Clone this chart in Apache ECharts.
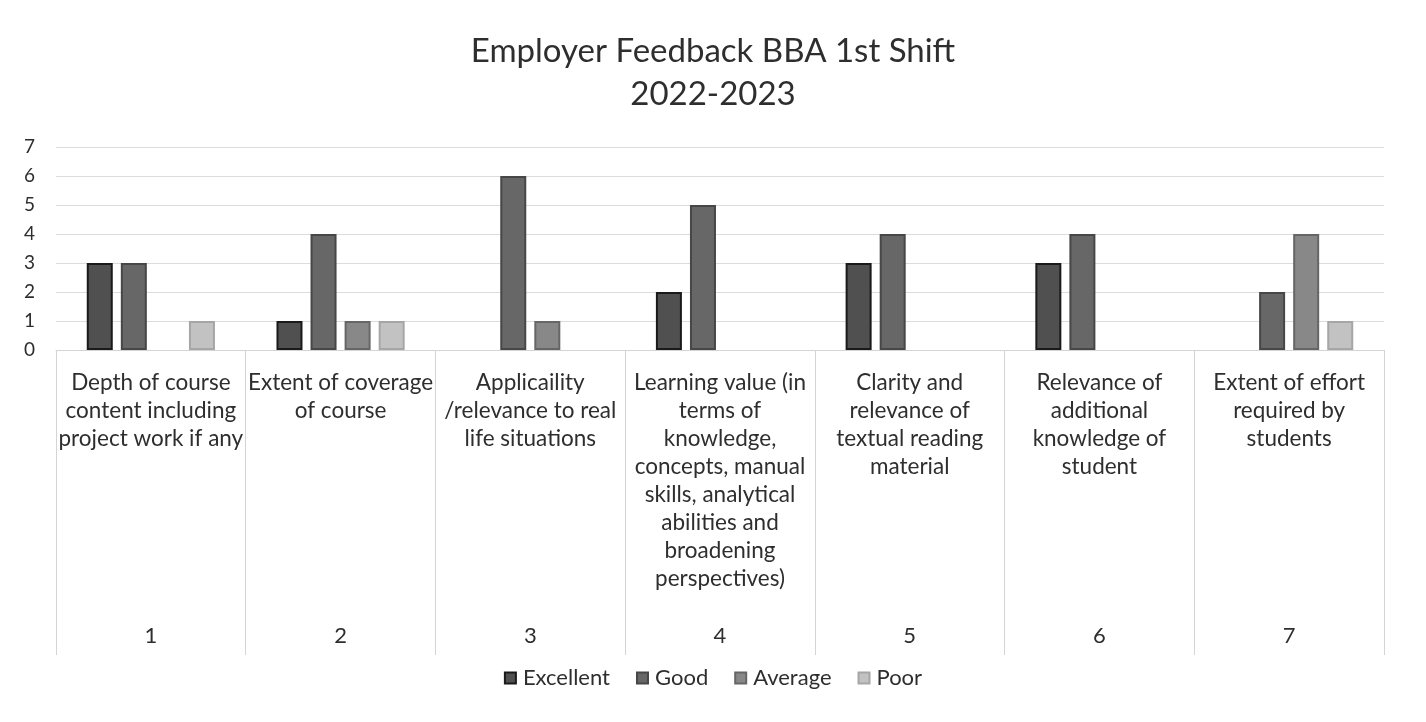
<!DOCTYPE html>
<html>
<head>
<meta charset="utf-8">
<script src="https://cdn.jsdelivr.net/npm/echarts@6/dist/echarts.min.js"></script>
<style>
html,body{margin:0;padding:0;background:#ffffff;}
#chart{width:1426px;height:722px;}
</style>
</head>
<body>
<div id="chart"></div>
<script>
var titleLines = ['Employer Feedback BBA 1st Shift', '2022-2023'];
var categories = [
  'Depth of course\ncontent including\nproject work if any',
  'Extent of coverage\nof course',
  'Applicaility\n/relevance to real\nlife situations',
  'Learning value (in\nterms of\nknowledge,\nconcepts, manual\nskills, analytical\nabilities and\nbroadening\nperspectives)',
  'Clarity and\nrelevance of\ntextual reading\nmaterial',
  'Relevance of\nadditional\nknowledge of\nstudent',
  'Extent of effort\nrequired by\nstudents'
];
var categoryNumbers = ['1', '2', '3', '4', '5', '6', '7'];
var excellent = [3, 1, 0, 2, 3, 3, 0];
var good      = [3, 4, 6, 5, 4, 4, 2];
var average   = [0, 1, 1, 0, 0, 0, 4];
var poor      = [1, 1, 0, 0, 0, 0, 1];
var yTicks = [0, 1, 2, 3, 4, 5, 6, 7];

var FONT = 'Lato, "Open Sans", sans-serif';
var chart = echarts.init(document.getElementById('chart'));

function barSeries(name, data, color, border) {
  return {
    name: name,
    type: 'bar',
    xAxisIndex: 0,
    barWidth: 26,
    barGap: '31%',
    data: data.map(function (v) {
      return v === 0 ? { value: v, itemStyle: { borderWidth: 0, opacity: 0 } } : v;
    }),
    itemStyle: { color: color, borderColor: border, borderWidth: 2 }
  };
}

chart.setOption({
  backgroundColor: '#ffffff',
  textStyle: { fontFamily: FONT },
  title: {
    text: titleLines.join('\n'),
    left: 'center',
    top: 30,
    padding: 0,
    textStyle: { fontFamily: FONT, fontSize: 33, fontWeight: 'normal', color: '#2e2e2e', lineHeight: 43 }
  },
  legend: {
    left: 'center',
    top: 662,
    itemWidth: 11,
    itemHeight: 11,
    itemGap: 26,
    icon: 'rect',
    textStyle: { fontFamily: FONT, fontSize: 22, color: '#2e2e2e', padding: [0, 0, 0, 2] },
    data: ['Excellent', 'Good', 'Average', 'Poor']
  },
  grid: { left: 56, right: 42, top: 147, bottom: 372, containLabel: false },
  xAxis: [
    {
      type: 'category',
      data: categories,
      axisLine: { show: true, lineStyle: { color: '#d4d4d4', width: 1 } },
      axisTick: { show: true, length: 305, interval: 0, lineStyle: { color: '#d4d4d4', width: 1 } },
      axisLabel: {
        interval: 0,
        margin: 19,
        fontFamily: FONT,
        fontSize: 22.5,
        lineHeight: 28,
        color: '#2e2e2e',
        align: 'center',
        verticalAlign: 'top'
      }
    },
    {
      type: 'category',
      data: categoryNumbers,
      position: 'bottom',
      axisLine: { show: false },
      axisTick: { show: false },
      axisLabel: {
        interval: 0,
        margin: 275,
        fontFamily: FONT,
        fontSize: 22,
        color: '#2e2e2e',
        verticalAlign: 'top'
      }
    }
  ],
  yAxis: {
    type: 'value',
    min: yTicks[0],
    max: yTicks[yTicks.length - 1],
    interval: 1,
    axisLine: { show: false },
    axisTick: { show: false },
    splitLine: { show: true, lineStyle: { color: '#dcdcdc', width: 1 } },
    axisLabel: { margin: 21, fontFamily: FONT, fontSize: 19, color: '#2e2e2e' }
  },
  series: [
    barSeries('Excellent', excellent, '#505050', '#1a1a1a'),
    barSeries('Good', good, '#676767', '#474747'),
    barSeries('Average', average, '#888888', '#666666'),
    barSeries('Poor', poor, '#c2c2c2', '#a6a6a6')
  ]
});
</script>
</body>
</html>
